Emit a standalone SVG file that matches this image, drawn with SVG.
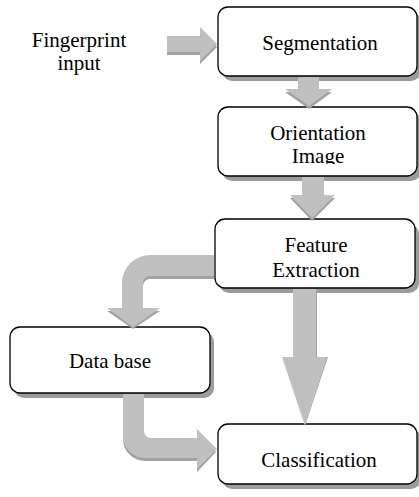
<svg xmlns="http://www.w3.org/2000/svg" width="419" height="497" viewBox="0 0 419 497">
<defs>
<style>
.box{fill:#fff;stroke:#000;stroke-width:1.3}
.sh{fill:#9c9c9c}
.t{font-family:"Liberation Serif","Times New Roman",serif;font-size:21px;fill:#000;text-anchor:middle}
.a{fill:#c0c0c0}
.as{fill:#a2a2a2}
</style>
<clipPath id="clipImg"><rect x="200" y="100" width="219" height="64"/></clipPath>
</defs>
<rect width="419" height="497" fill="#fff"/>
<g id="input"><text class="t" x="79" y="47">Fingerprint</text><text class="t" x="79" y="70">input</text></g>
<g id="segmentation"><rect class="sh" x="222" y="12" width="199" height="69" rx="10"/><rect class="box" x="218" y="7" width="199" height="69" rx="10"/><text class="t" x="320" y="50">Segmentation</text></g>
<g id="orientation"><rect class="sh" x="222" y="112" width="199" height="69" rx="10"/><rect class="box" x="218" y="107" width="199" height="69" rx="10"/><text class="t" x="318" y="140">Orientation</text><text class="t" x="318" y="163" clip-path="url(#clipImg)">Image</text></g>
<g id="feature"><rect class="sh" x="219" y="224" width="200" height="69" rx="10"/><rect class="box" x="215" y="219" width="200" height="69" rx="10"/><text class="t" x="316" y="252">Feature</text><text class="t" x="316" y="277">Extraction</text></g>
<g id="database"><rect class="sh" x="14" y="332" width="200" height="66" rx="10"/><rect class="box" x="10" y="327" width="200" height="66" rx="10"/><text class="t" x="110" y="368">Data base</text></g>
<g id="classification"><rect class="sh" x="222" y="429" width="199" height="60" rx="10"/><rect class="box" x="218" y="424" width="199" height="60" rx="10"/><text class="t" x="319" y="467">Classification</text></g>
<g id="connectors">
<g transform="translate(0,3)" class="as">
<path d="M167,36 H200 V27 L217,44 L200,61 V52 H167 Z"/>
<path d="M298,77 H319 V89 H332 L309,106 L285,89 H298 Z"/>
<path d="M302,177 H324 V195 H335 L312,218 L290,195 H302 Z"/>
<path d="M293,289 H316 V357 H327 L305,423 L282,357 H293 Z" transform="translate(1,-3)"/>
<path d="M214,255 H150 A28,28 0 0 0 122,283 V308 H107 L133,326 L160,308 H143 V283 A7,7 0 0 1 150,276 H214 Z"/>
<path d="M123,394 H144 V431 A7,7 0 0 0 151,438 H197 V429 L216,449 L197,469 V458 H145 A22,22 0 0 1 123,436 Z"/>
</g>
<g class="a">
<path d="M167,36 H200 V27 L217,44 L200,61 V52 H167 Z"/>
<path d="M298,77 H319 V89 H332 L309,106 L285,89 H298 Z"/>
<path d="M302,177 H324 V195 H335 L312,218 L290,195 H302 Z"/>
<path d="M293,289 H316 V357 H327 L305,426 L282,357 H293 Z"/>
<path d="M214,255 H150 A28,28 0 0 0 122,283 V308 H107 L133,327 L160,308 H143 V283 A7,7 0 0 1 150,276 H214 Z"/>
<path d="M123,394 H144 V431 A7,7 0 0 0 151,438 H197 V429 L217,449 L197,469 V458 H145 A22,22 0 0 1 123,436 Z"/>
</g>
</g>
</svg>
